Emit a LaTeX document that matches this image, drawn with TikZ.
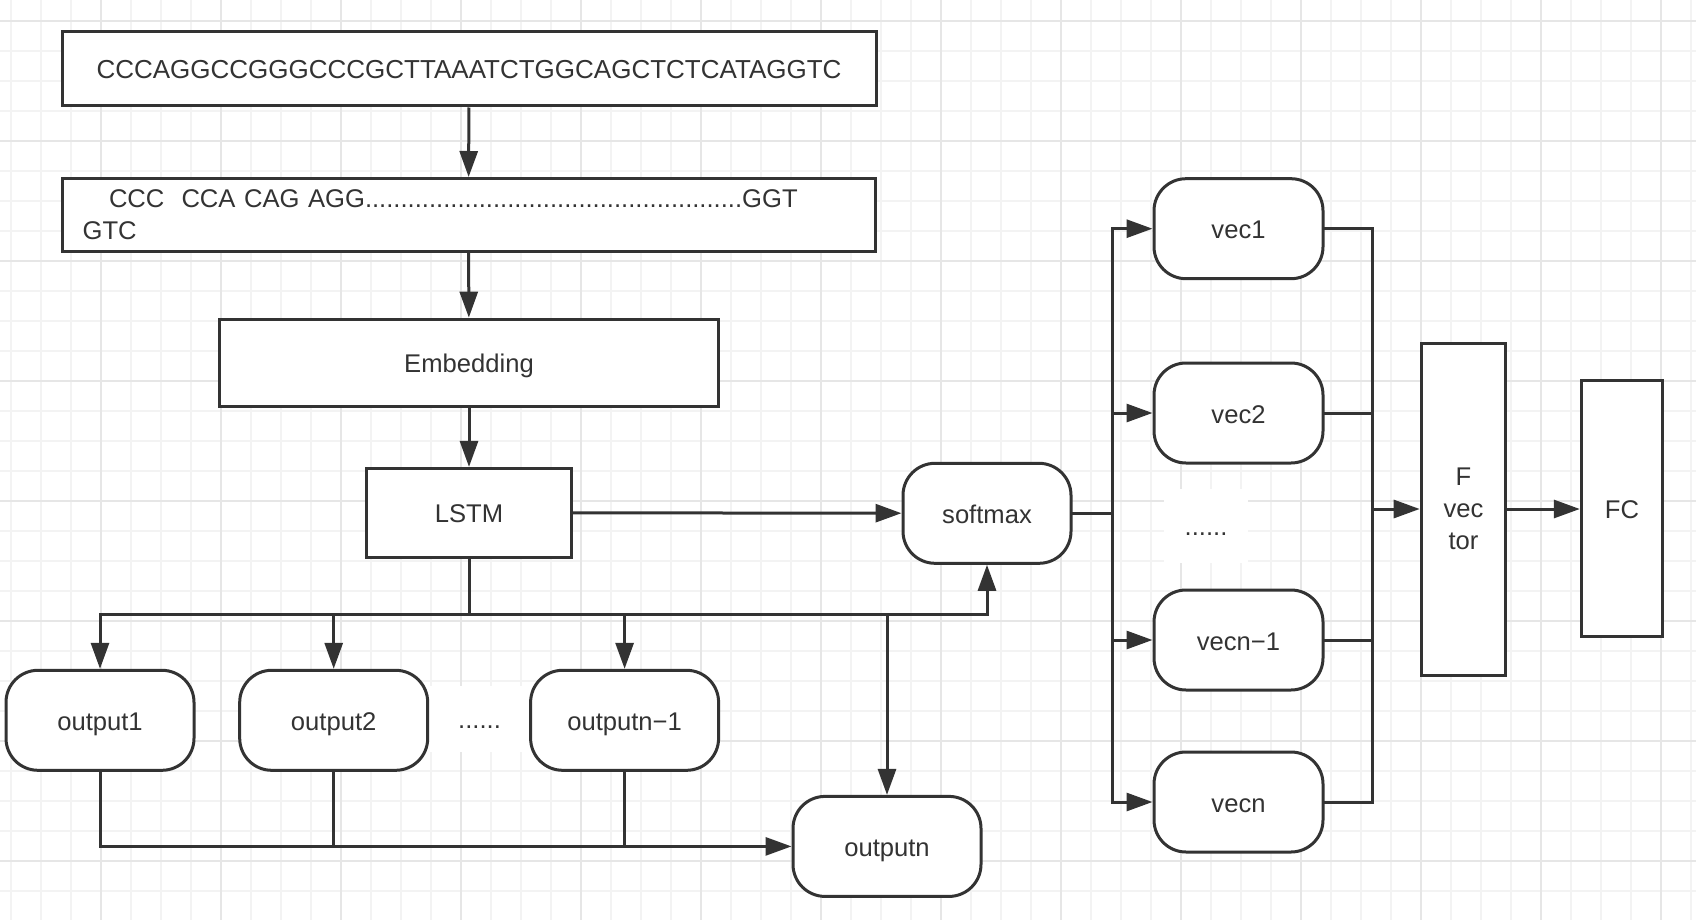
\documentclass[tikz,border=0pt]{standalone}
\usepackage{fontspec}
\setmainfont{Liberation Sans}
\usetikzlibrary{arrows.meta}
\definecolor{ink}{HTML}{333333}
\definecolor{gridminor}{HTML}{F3F3F3}
\definecolor{gridmajor}{HTML}{E6E6E6}

\begin{document}
\begin{tikzpicture}[x=0.5pt, y=-0.5pt, every node/.style={font=\fontsize{12.8}{16}\selectfont, text=ink},
  box/.style={draw=ink, line width=1.5pt, fill=white, inner sep=0pt},
  oneline/.style={text height=10.4pt, text depth=0.4pt},
  pill/.style={box, oneline, rounded corners=16pt, minimum width=94pt, minimum height=50pt},
  gap/.style={fill=white, inner sep=0pt, text height=9pt, text depth=0pt, minimum width=42pt, minimum height=35pt},
  wire/.style={draw=ink, line width=1.5pt, line cap=rect},
  arr/.style={draw=ink, line width=1.5pt, -{Triangle[length=13pt, width=9pt]}}]
\useasboundingbox (0,0) rectangle (1696,920);
\fill[white] (0,0) rectangle (1696,920);
\foreach \x in {11,41,...,1691} \draw[gridminor, line width=1pt] (\x,0) -- (\x,920);
\foreach \y in {20.7,50.7,...,920} \draw[gridminor, line width=1pt] (0,\y) -- (1696,\y);
\foreach \x in {101,221,...,1691} \draw[gridmajor, line width=1pt] (\x,0) -- (\x,920);
\foreach \y in {20.7,140.7,...,920} \draw[gridmajor, line width=1pt] (0,\y) -- (1696,\y);

\node[box, oneline, font=\fontsize{13}{16}\selectfont, minimum width=407pt, minimum height=37.3pt] (seq) at (469,68.7) {CCCAGGCCGGGCCCGCTTAAATCTGGCAGCTCTCATAGGTC};
\node[box, minimum height=36.3pt, text width=385.9pt, inner xsep=10.3pt, align=left] (kmer) at (468.5,214.8) {\hspace*{13.2pt}CCC\ \ CCA CAG AGG.....................................................GGT\\GTC};
\node[box, oneline, minimum width=249.3pt, minimum height=43.8pt] (embed) at (469,362.9) {Embedding};
\node[box, oneline, minimum width=102.3pt, minimum height=44.3pt] (lstm) at (469,512.7) {LSTM};
\node[pill, minimum width=84pt] (soft) at (987,513.3) {softmax};
\node[gap, minimum width=52pt, minimum height=33pt] (odots) at (479.5,719.3) {......};
\foreach \name/\x/\txt in {o1/100/output1, o2/333.7/output2, on1/624.6/outputn−1} \node[pill] (\name) at (\x,720.3) {\txt};
\node[pill] (on) at (887,846.4) {outputn};
\node[gap, minimum height=37pt] (vdots) at (1206,526) {......};
\foreach \name/\y/\txt in {v1/228.7/vec1, v2/413/vec2, vn1/640/vecn−1, vn/802/vecn} \node[pill, minimum width=84.5pt] (\name) at (1238.5,\y) {\txt};
\node[box, minimum width=42.3pt, minimum height=166pt, align=center] (fvec) at (1463.5,509) {F\\vec\\tor};
\node[box, oneline, minimum width=40.7pt, minimum height=127.7pt] (fc) at (1622,508.5) {FC};

\draw[arr] (seq) -- (kmer);
\draw[arr] (kmer) -- (embed);
\draw[arr] (embed) -- (lstm);
\draw[arr] (lstm) -- (soft);
\coordinate (bus) at (469,614.4);
\draw[wire] (lstm) -- (bus);
\draw[wire] (o1.north |- bus) -- (on.north |- bus);
\foreach \n in {o1,o2,on1,on} \draw[arr] (\n.north |- bus) -- (\n.north);
\draw[arr] (on.north |- bus) -| (soft.south);
\draw[arr] (o1.south) |- (on.west);
\foreach \n in {o2,on1} \draw[wire] (\n.south) -- (\n.south |- on.west);

\coordinate (fan) at (1112,513.3);
\coordinate (join) at (1372.6,509);
\draw[wire] (soft.east) -- (fan);
\draw[wire] (fan |- v1) -- (fan |- vn);
\draw[wire] (join |- v1) -- (join |- vn);
\foreach \n in {v1,v2,vn1,vn} { \draw[arr] (fan |- \n) -- (\n.west); \draw[wire] (\n.east) -- (join |- \n); }
\draw[arr] (join) -- (fvec.west);
\draw[arr] (fvec.east) -- (fvec.east -| fc.west);
\end{tikzpicture}
\end{document}
